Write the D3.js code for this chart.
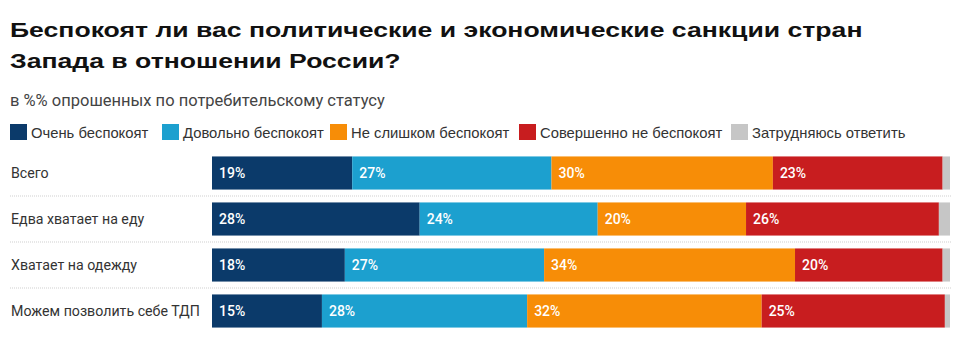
<!DOCTYPE html>
<html><head><meta charset="utf-8">
<script src="https://cdn.jsdelivr.net/npm/d3@7"></script>
<style>body{margin:0;background:#fff;} svg{display:block;}</style>
</head><body>
<svg id="chart" width="960" height="341"></svg>
<script>
const categories = ["Всего", "Едва хватает на еду", "Хватает на одежду", "Можем позволить себе ТДП"];
const seriesNames = ["Очень беспокоят", "Довольно беспокоят", "Не слишком беспокоят", "Совершенно не беспокоят", "Затрудняюсь ответить"];
const veryWorried = [19, 28, 18, 15];
const ratherWorried = [27, 24, 27, 28];
const notVery = [30, 20, 34, 32];
const notAtAll = [23, 26, 20, 25];
const hardToSay = [1, 1.5, 1, 0.7];
const colors = ["#0b3a6a", "#1ca0cf", "#f78d07", "#c81d1f", "#c6c6c6"];

const svg = d3.select("#chart");
const seriesValues = [veryWorried, ratherWorried, notVery, notAtAll, hardToSay];
const rows = categories.map((c, i) => {
  const o = {cat: c};
  seriesNames.forEach((s, j) => o[s] = seriesValues[j][i]);
  return o;
});
const stack = d3.stack().keys(seriesNames).offset(d3.stackOffsetExpand);
const layers = stack(rows);

const x = d3.scaleLinear().domain([0, 1]).range([212, 950]);
const y = d3.scaleBand().domain(categories).range([150, 334]).paddingInner(0.28).paddingOuter(0.14);

// title
const tg = svg.append("g");
const t1 = tg.append("text").attr("x", 0).attr("y", 37).attr("font-family", "Liberation Sans, Arial, sans-serif")
  .attr("font-weight", "bold").attr("font-size", 21).attr("fill", "#111")
  .text("Беспокоят ли вас политические и экономические санкции стран");
tg.append("text").attr("x", 0).attr("y", 68).attr("font-family", "Liberation Sans, Arial, sans-serif")
  .attr("font-weight", "bold").attr("font-size", 21).attr("fill", "#111")
  .text("Запада в отношении России?");
const sx = 853 / t1.node().getComputedTextLength();
tg.attr("transform", `translate(10,0) scale(${sx},1)`);

svg.append("text").attr("x", 10).attr("y", 106).attr("font-family", "Roboto, sans-serif")
  .attr("font-size", 16.5).attr("fill", "#444")
  .text("в %% опрошенных по потребительскому статусу");

// legend
const legendX = [10, 162, 330, 519, 731];
const lg = svg.append("g").selectAll("g").data(seriesNames).join("g")
  .attr("transform", (d, i) => `translate(${legendX[i]},124)`);
lg.append("rect").attr("width", 17).attr("height", 16).attr("fill", (d, i) => colors[i]);
lg.append("text").attr("x", 21).attr("y", 13.5).attr("font-family", "Liberation Sans, Arial, sans-serif")
  .attr("font-size", 14.8).attr("fill", "#333").text(d => d);

// separators
svg.append("g").selectAll("line").data(categories.slice(1)).join("line")
  .attr("x1", 10).attr("x2", 952)
  .attr("y1", d => y(d) - (y.step() - y.bandwidth()) / 2).attr("y2", d => y(d) - (y.step() - y.bandwidth()) / 2)
  .attr("stroke", "#cfcfcf").attr("stroke-dasharray", "1,1");

// row labels
svg.append("g").selectAll("text").data(categories).join("text")
  .attr("x", 11).attr("y", d => y(d) + y.bandwidth() / 2 + 5)
  .attr("font-family", "Roboto, sans-serif").attr("font-size", 14.2).attr("fill", "#333").text(d => d);

// bars
const g = svg.append("g").selectAll("g").data(layers).join("g").attr("fill", (d, i) => colors[i]);
g.selectAll("rect").data(d => d).join("rect")
  .attr("x", d => x(d[0])).attr("width", d => x(d[1]) - x(d[0]))
  .attr("y", d => y(d.data.cat)).attr("height", y.bandwidth());

// value labels
const lbl = svg.append("g");
layers.slice(0, 4).forEach(layer => {
  lbl.selectAll(null).data(layer).join("text")
    .attr("x", d => x(d[0]) + 7).attr("y", d => y(d.data.cat) + y.bandwidth() / 2 + 5)
    .attr("font-family", "Roboto, sans-serif").attr("font-weight", 500).attr("font-size", 14)
    .attr("fill", "#fff").text(d => d.data[layer.key] + "%");
});
</script>
</body></html>
